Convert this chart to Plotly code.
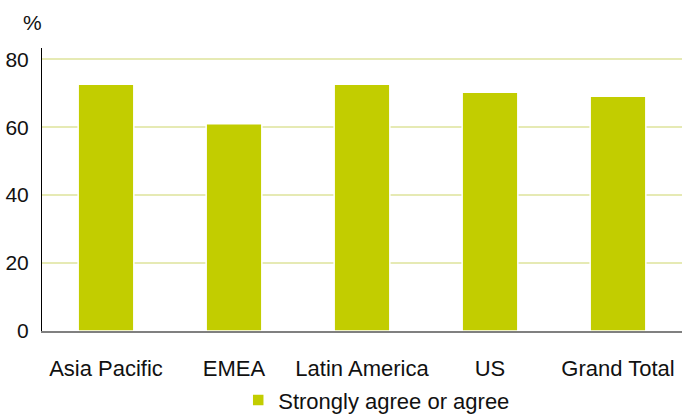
import plotly.graph_objects as go

regions = ["Asia Pacific", "EMEA", "Latin America", "US", "Grand Total"]
agree_pct = [72.6, 61.0, 72.6, 70.3, 69.1]
series_name = "Strongly agree or agree"
y_ticks = [0, 20, 40, 60, 80]

fig = go.Figure()
fig.add_trace(go.Bar(
    x=regions,
    y=agree_pct,
    name=series_name,
    marker=dict(color="#C2CD00", line=dict(color="#FFFFFF", width=1.5)),
    showlegend=True,
))

fig.update_layout(
    width=682,
    height=419,
    margin=dict(l=42, r=0, t=48, b=88, autoexpand=False),
    paper_bgcolor="white",
    plot_bgcolor="white",
    font=dict(family="Liberation Sans, Arial, sans-serif", size=22, color="#111111"),
    bargap=0.565,
    showlegend=True,
    legend=dict(
        orientation="h",
        x=0.523,
        xanchor="center",
        xref="paper",
        y=0.045,
        yanchor="middle",
        yref="container",
        font=dict(size=22),
        itemwidth=30,
    ),
    xaxis=dict(
        showgrid=False,
        showline=True,
        linecolor="#808080",
        linewidth=2,
        ticks="",
        ticklabelstandoff=17,
        zeroline=False,
    ),
    yaxis=dict(
        range=[0, 83.3],
        tickvals=y_ticks,
        showgrid=True,
        gridcolor="#E6EAB4",
        gridwidth=1.5,
        showline=True,
        linecolor="#000000",
        linewidth=1,
        ticks="",
        ticklabelstandoff=8,
        tickfont=dict(size=21),
        zeroline=False,
    ),
    annotations=[dict(
        text="%",
        xref="paper", yref="paper",
        x=0, y=1,
        xanchor="right", yanchor="bottom",
        xshift=2, yshift=12,
        showarrow=False,
        font=dict(size=21),
    )],
)

fig.write_html("out.html")
